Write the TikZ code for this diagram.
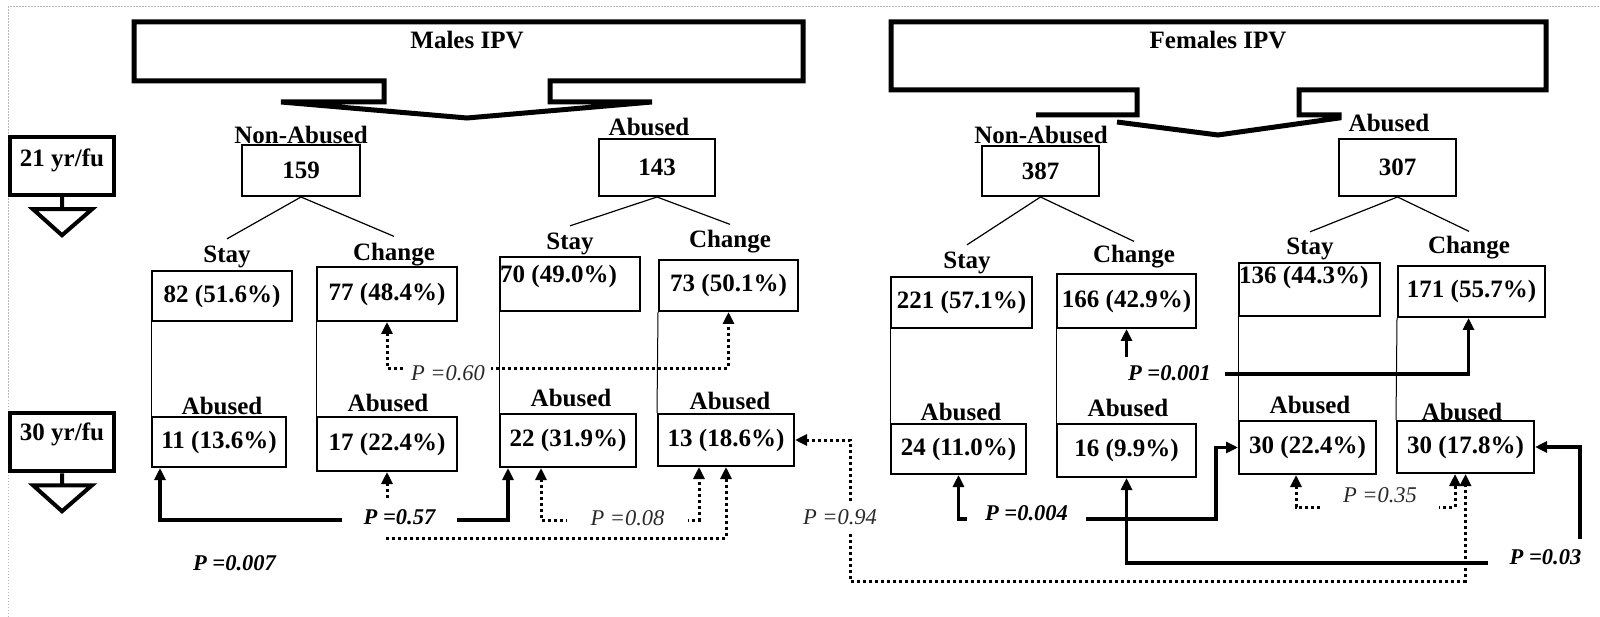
\documentclass[tikz,border=0pt]{standalone}
\usepackage{fontspec}
\setmainfont{Liberation Serif}
\usetikzlibrary{arrows.meta}
\definecolor{pgrey}{HTML}{2A2A2A}

\begin{document}
\begin{tikzpicture}[x=1pt,y=-1pt,
  >={Triangle[length=12pt,width=11pt]},
  txt/.style={font=\fontsize{25}{28}\selectfont\bfseries, inner sep=0pt},
  bx/.style 2 args={draw, line width=2pt, inner sep=0pt,
    minimum width=#1, minimum height=#2,
    font=\fontsize{25}{28}\selectfont\bfseries},
  tbox/.style={draw, line width=4.5pt, minimum width=104pt, minimum height=58pt, inner sep=0pt},
  hdr/.style={line width=5pt, line join=miter},
  tree/.style={line width=1.2pt},
  rail/.style={line width=1pt},
  sol/.style={line width=3.5pt, line join=miter},
  dotl/.style={line width=3pt, dash pattern=on 3pt off 3pt},
  pb/.style={font=\fontsize{22.5}{25}\selectfont\bfseries\itshape, inner ysep=3pt},
  pi/.style={font=\fontsize{22.5}{25}\selectfont\itshape, text=pgrey, inner ysep=3pt},
]
\useasboundingbox (0,0) rectangle (1600,617);

% frame edges
\draw[gray!55, line width=1pt, dash pattern=on 1.5pt off 1.5pt] (8,617) -- (8,7) -- (1600,7);

% ---------- header callouts ----------
\draw[hdr] (134,81) -- (384,81) -- (384,102) -- (281,102) -- (467,118) -- (652,102)
  -- (550,102) -- (550,81) -- (803,81) -- (803,22) -- (134,22) -- cycle;
\node[txt] (hm) at (467,40.5) {Males IPV};

\draw[hdr] (1036,115) -- (1137,115) -- (1137,90) -- (891,90) -- (891,22) -- (1546,22)
  -- (1546,90) -- (1299,90) -- (1299,115) -- (1339,115) -- (1339,118) -- (1218,135) -- (1117,122);
\node[txt] (hf) at (1218,40.5) {Females IPV};

% ---------- follow-up markers ----------
\node[tbox] (t21) at (62,166) {};
\node[txt] at (62,160) {21 yr/fu};
\draw[line width=4pt, line join=miter] (t21.south) -- ++(0,12) ++(-29,0) -- ++(59,0) -- ++(-30,26) -- cycle;

\node[tbox] (t30) at (62,442) {};
\node[txt] at (62,434) {30 yr/fu};
\draw[line width=4pt, line join=miter] (t30.south) -- ++(0,12) ++(-29,0) -- ++(59,0) -- ++(-30,26) -- cycle;

% ---------- males tree ----------
\node[txt] (mNA) at (301,135) {Non-Abused};
\node[txt] (mA) at (649,127) {Abused};
\node[bx={118pt}{51pt}] (m159) at (301,170.5) {159};
\node[bx={116pt}{57pt}] (m143) at (657,167.5) {143};

\node[txt] (sM1) at (227,257) {Stay};
\node[txt] (cM1) at (394,255) {Change};
\node[txt] (sM2) at (570,244) {Stay};
\node[txt] (cM2) at (730,242) {Change};

\draw[tree] (m159.south) -- ([yshift=7pt]sM1.north);
\draw[tree] (m159.south) -- ([yshift=7pt]cM1.north);
\draw[tree] (m143.south) -- ([yshift=7pt]sM2.north);
\draw[tree] (m143.south) -- ([yshift=6pt]cM2.north);

\node[bx={140pt}{50pt}] (m82) at (222,296) {82 (51.6\%)};
\node[bx={140pt}{54pt}] (m77) at (387,294) {77 (48.4\%)};
\node[bx={140pt}{54pt}] (m70) at (570,284) {};
\node[txt, anchor=north west] at ([xshift=1pt,yshift=-9pt]m70.north west) {70 (49.0\%)};
\node[bx={139pt}{51pt}] (m73) at (728.5,285.5) {73 (50.1\%)};

\node[txt] (aM1) at (222,406) {Abused};
\node[txt] (aM2) at (388,403) {Abused};
\node[txt] (aM3) at (571,398) {Abused};
\node[txt] (aM4) at (730,401) {Abused};

\node[bx={134pt}{50pt}] (m11) at (219,442) {11 (13.6\%)};
\node[bx={140pt}{54pt}] (m17) at (387,444) {17 (22.4\%)};
\node[bx={136pt}{53pt}] (m22) at (568,440.5) {22 (31.9\%)};
\node[bx={136pt}{52pt}] (m13) at (726,440) {13 (18.6\%)};

\draw[rail] (m82.south west) -- (m11.north west);
\draw[rail] (m77.south west) -- (m17.north west);
\draw[rail] (m70.south west) -- (m22.north west);
\draw[rail] (m73.south west) -- (m13.north west);

% ---------- females tree ----------
\node[txt] (fNA) at (1041,135) {Non-Abused};
\node[txt] (fA) at (1389,123) {Abused};
\node[bx={117pt}{50pt}] (f387) at (1040.5,171) {387};
\node[bx={117pt}{57pt}] (f307) at (1397.5,167.5) {307};

\node[txt] (sF1) at (967,263) {Stay};
\node[txt] (cF1) at (1134,257) {Change};
\node[txt] (sF2) at (1310,249) {Stay};
\node[txt] (cF2) at (1469,248) {Change};

\draw[tree] (f387.south) -- ([yshift=7pt]sF1.north);
\draw[tree] (f387.south) -- ([yshift=4pt]cF1.north);
\draw[tree] (f307.south) -- ([yshift=6pt]sF2.north);
\draw[tree] (f307.south) -- ([yshift=5pt]cF2.north);

\node[bx={141pt}{51pt}] (f221) at (961.5,302.5) {221 (57.1\%)};
\node[bx={139pt}{54pt}] (f166) at (1126.5,301) {166 (42.9\%)};
\node[bx={141pt}{53pt}] (f136) at (1309.5,289.5) {};
\node[txt, anchor=north west] at ([xshift=1pt,yshift=-4pt]f136.north west) {136 (44.3\%)};
\node[bx={147pt}{51pt}] (f171) at (1471.5,291.5) {171 (55.7\%)};

\node[txt] (aF1) at (961,412) {Abused};
\node[txt] (aF2) at (1128,408) {Abused};
\node[txt] (aF3) at (1310,405) {Abused};
\node[txt] (aF4) at (1462,412) {Abused};

\node[bx={135pt}{50pt}] (f24) at (958.5,449) {24 (11.0\%)};
\node[bx={139pt}{53pt}] (f16) at (1126.5,450.5) {16 (9.9\%)};
\node[bx={137pt}{53pt}] (f30a) at (1307.5,447.5) {30 (22.4\%)};
\node[bx={137pt}{52pt}] (f30b) at (1465.5,447) {30 (17.8\%)};

\draw[rail] (f221.south west) -- (f24.north west);
\draw[rail] (f166.south west) -- (f16.north west);
\draw[rail] (f136.south west) -- (f30a.north west);
\draw[rail] (f171.south west) -- (f30b.north west);

% ---------- males comparisons ----------
\draw[dotl, <->] (m77.south) -- ++(0,46) -| (m73.south);
\node[pi, fill=white, inner xsep=6.5pt] (p060) at (448,373) {P =0.60};

\draw[sol, <->] ([xshift=9pt]m11.south west) -- ++(0,52) -| ([xshift=9pt]m22.south west);
\draw[dotl, <->] (m17.south) -- ++(0,66) -| (m13.south);
\node[pb, fill=white, inner xsep=22pt, inner ysep=10pt] (p057) at (399.5,517) {P =0.57};

\draw[dotl, <->] ([xshift=42pt]m22.south west) -- ++(0,52) -| ([xshift=42pt]m13.south west);
\node[pi, fill=white, inner xsep=24pt] (p008) at (627.5,518) {P =0.08};

\node[pb] (p0007) at (234.5,563) {P =0.007};

\coordinate (c094) at (850,581);
\draw[dotl, <->] (m13.east) -| (c094) -| (f30b.south);
\node[pi, fill=white, inner xsep=3pt, inner ysep=7pt] (p094) at (840,517) {P =0.94};

% ---------- females comparisons ----------
\node[pb, inner xsep=14pt, inner ysep=8pt] (p0001) at (1169.5,373) {P =0.001};
\draw[sol, ->] (p0001.north -| f166.south) -- (f166.south);
\draw[sol, ->] ([yshift=-1pt]p0001.east) -| ([xshift=-3pt]f171.south);

\coordinate (c004) at (1216,519);
\draw[sol, <->] (f24.south) |- (c004) |- (f30a.west);
\node[pb, fill=white, inner xsep=18.5pt] (p0004) at (1026.5,513) {P =0.004};

\draw[dotl, <->] ([xshift=58pt]f30a.south west) -- ++(0,32) -| ([xshift=59pt]f30b.south west);
\node[pi, fill=white, inner xsep=22pt, inner ysep=6pt] (p035) at (1380,495) {P =0.35};

\node[pb, inner xsep=22pt] (p003) at (1545.5,557) {P =0.03};
\draw[sol, ->] ([yshift=-6pt]p003.west) -| (f16.south);
\coordinate (c03) at (1580,539);
\draw[sol, ->] (c03) |- (f30b.east);

\end{tikzpicture}
\end{document}
